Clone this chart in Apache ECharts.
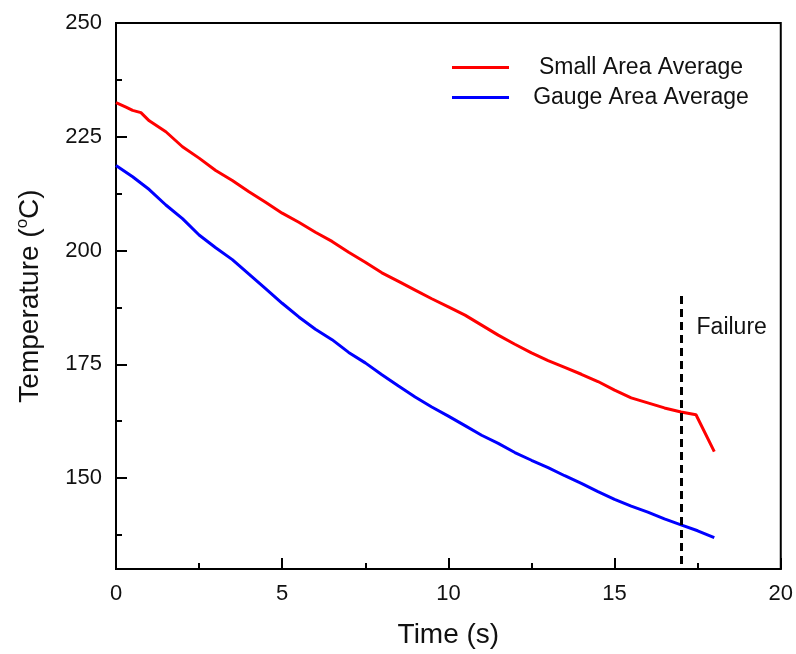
<!DOCTYPE html>
<html>
<head>
<meta charset="utf-8">
<script src="https://cdn.jsdelivr.net/npm/echarts@6/dist/echarts.min.js"></script>
<style>html,body{margin:0;padding:0;background:#fff}#c{width:796px;height:654px}</style>
</head>
<body>
<div id="c"></div>
<script>
const timeRed = [0,0.3,0.5,0.75,1.0,1.5,2.0,2.5,3.0,3.5,4.0,4.5,5.0,5.5,6.0,6.5,7.0,7.5,8.0,8.5,9.0,9.5,10.0,10.5,11.0,11.5,12.0,12.5,13.0,13.5,14.0,14.5,15.0,15.5,16.0,16.5,17.0,17.45,18.0];
const tempRed = [232.5,231.5,230.8,230.3,228.5,226.1,222.8,220.3,217.6,215.4,212.9,210.6,208.2,206.2,204.0,202.0,199.6,197.4,195.1,193.2,191.3,189.4,187.6,185.8,183.6,181.4,179.4,177.5,175.8,174.3,172.8,171.2,169.3,167.6,166.5,165.4,164.5,163.9,155.8];
const timeBlue = [0,0.5,1.0,1.5,2.0,2.5,3.0,3.5,4.0,4.5,5.0,5.5,6.0,6.5,7.0,7.5,8.0,8.5,9.0,9.5,10.0,10.5,11.0,11.5,12.0,12.5,13.0,13.5,14.0,14.5,15.0,15.5,16.0,16.5,17.0,17.5,18.0];
const tempBlue = [218.7,216.2,213.4,210.0,207.0,203.4,200.6,198.0,194.8,191.6,188.4,185.4,182.7,180.4,177.6,175.3,172.7,170.2,167.8,165.6,163.6,161.5,159.4,157.6,155.6,153.9,152.3,150.5,148.8,147.0,145.3,143.8,142.5,141.0,139.7,138.4,136.9];
const seriesNames = ['Small Area Average', 'Gauge Area Average'];
const xTicks = [0,5,10,15,20];
const yTicks = [150,175,200,225,250];
const yMinorTicks = [137.5,162.5,187.5,212.5,237.5];
const failureTime = 17;
const failureTop = 190;
const failureLabel = 'Failure';

const FONT = '"Liberation Sans", Arial, sans-serif';
const zip = (a, b) => a.map((v, i) => [v, b[i]]);

const chart = echarts.init(document.getElementById('c'), null, {renderer: 'canvas'});
chart.setOption({
  animation: false,
  backgroundColor: '#fff',
  textStyle: {fontFamily: FONT},
  grid: {left: 116, right: 14, top: 23, bottom: 83, show: true, borderColor: '#000', borderWidth: 2, backgroundColor: 'transparent'},
  legend: {
    orient: 'vertical', left: 452, top: 56, padding: 0, itemGap: 7,
    icon: 'rect', itemWidth: 57, itemHeight: 3, align: 'left',
    data: seriesNames,
    formatter: n => '{c|' + n + '}',
    textStyle: {rich: {c: {width: 254, align: 'center', fontSize: 23, lineHeight: 23, color: '#111', fontFamily: FONT}}}
  },
  xAxis: {
    type: 'value', min: xTicks[0], max: xTicks[xTicks.length - 1], interval: 5,
    axisLine: {show: true, lineStyle: {color: '#000', width: 2}},
    axisTick: {inside: true, length: 11, lineStyle: {color: '#000', width: 2}},
    minorTick: {show: true, splitNumber: 2, length: 6, lineStyle: {color: '#000', width: 2}},
    splitLine: {show: false},
    axisLabel: {fontSize: 22, color: '#111', margin: 14, fontFamily: FONT},
    name: 'Time (s)', nameLocation: 'middle', nameGap: 52,
    nameTextStyle: {fontSize: 28, color: '#111', fontFamily: FONT}
  },
  yAxis: [{
    type: 'value', min: 130, max: 250,
    axisLine: {show: true, lineStyle: {color: '#000', width: 2}},
    axisTick: {inside: true, length: 11, customValues: yTicks, lineStyle: {color: '#000', width: 2}},
    splitLine: {show: false},
    axisLabel: {fontSize: 22, color: '#111', margin: 14, customValues: yTicks, fontFamily: FONT},
    name: '{m|Temperature (}{s|o}{m|C)}', nameLocation: 'middle', nameGap: 70,
    nameTextStyle: {rich: {
      m: {fontSize: 28, color: '#111', fontFamily: FONT, lineHeight: 32},
      s: {fontSize: 17, color: '#111', fontFamily: FONT, verticalAlign: 'top', lineHeight: 32}
    }}
  }, {
    type: 'value', min: 130, max: 250, position: 'left',
    axisLine: {show: false},
    axisTick: {show: true, inside: true, length: 6, customValues: yMinorTicks, lineStyle: {color: '#000', width: 2}},
    splitLine: {show: false},
    axisLabel: {show: false}
  }],
  series: [{
    name: seriesNames[0], type: 'line', data: zip(timeRed, tempRed), yAxisIndex: 0,
    showSymbol: false, symbol: 'none', color: '#ff0000',
    lineStyle: {color: '#ff0000', width: 3},
    markPoint: {
      symbol: 'circle', symbolSize: 1, itemStyle: {color: 'rgba(0,0,0,0)'},
      label: {show: true, position: 'right', distance: 15, formatter: failureLabel, color: '#111', fontSize: 23, fontFamily: FONT},
      data: [{coord: [failureTime, 183]}]
    }
  }, {
    name: seriesNames[1], type: 'line', data: zip(timeBlue, tempBlue), yAxisIndex: 0,
    showSymbol: false, symbol: 'none', color: '#0000ff',
    lineStyle: {color: '#0000ff', width: 3},
    markLine: {
      silent: true, symbol: ['none', 'none'], label: {show: false},
      lineStyle: {color: '#000', type: [8, 5], width: 3},
      data: [[{coord: [failureTime, failureTop]}, {coord: [failureTime, 130]}]]
    }
  }]
});
</script>
</body>
</html>
